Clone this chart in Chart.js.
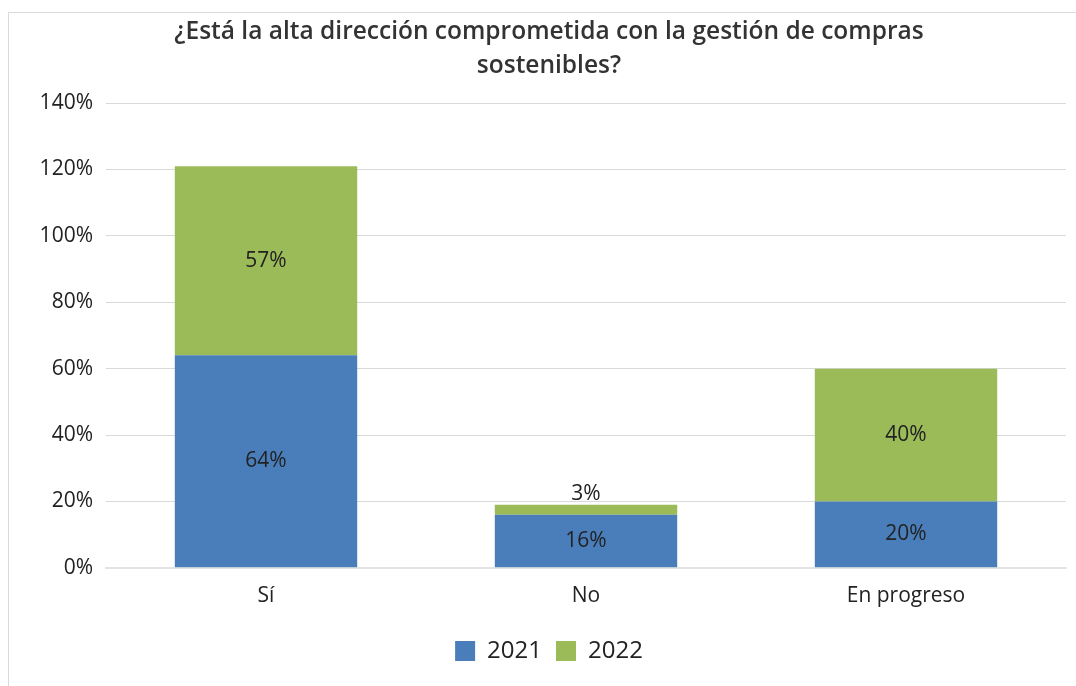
<!DOCTYPE html>
<html>
<head>
<meta charset="utf-8">
<script src="https://cdn.jsdelivr.net/npm/chart.js@4"></script>
<style>
  html, body { margin: 0; padding: 0; background: #fff; overflow: hidden; }
  #frame { position: absolute; left: 8px; top: 12px; width: 1082px; height: 674px;
           border-left: 1px solid #d9d9d9; border-top: 1px solid #d9d9d9; box-sizing: border-box; }
  #c { display: block; }
</style>
</head>
<body>
<div id="frame"><canvas id="c" width="1081" height="673"></canvas></div>
<script>
const categories = ['Sí', 'No', 'En progreso'];
const series2021 = [64, 16, 20];
const series2022 = [57, 3, 40];
const yTicks = [0, 20, 40, 60, 80, 100, 120, 140];
const titleLines = ['¿Está la alta dirección comprometida con la gestión de compras', 'sostenibles?'];

const FONT = '"Open Sans", sans-serif';

const labelPlugin = {
  id: 'segLabels',
  afterDatasetsDraw(chart) {
    const ctx = chart.ctx;
    ctx.save();
    ctx.font = '21px ' + FONT;
    ctx.fillStyle = '#222';
    ctx.textAlign = 'center';
    ctx.textBaseline = 'middle';
    chart.data.datasets.forEach((ds, di) => {
      const meta = chart.getDatasetMeta(di);
      meta.data.forEach((el, i) => {
        const v = ds.data[i];
        const top = Math.min(el.y, el.base), bot = Math.max(el.y, el.base);
        let y = (top + bot) / 2;
        if (bot - top < 22) y = top - 11;
        ctx.fillText(v + '%', el.x, y);
      });
    });
    ctx.restore();
  }
};

new Chart(document.getElementById('c'), {
  type: 'bar',
  data: {
    labels: categories,
    datasets: [
      { label: '2021', data: series2021, backgroundColor: '#4a7ebb' },
      { label: '2022', data: series2022, backgroundColor: '#9bbb59' }
    ]
  },
  plugins: [labelPlugin],
  options: {
    responsive: false,
    animation: false,
    layout: { padding: { left: 23, right: 24, top: 0, bottom: 13 } },
    datasets: { bar: { categoryPercentage: 0.57, barPercentage: 1 } },
    scales: {
      x: {
        stacked: true,
        grid: { display: false, drawTicks: false },
        border: { display: true, color: '#e3e3e3', width: 2 },
        ticks: { color: '#222', font: { family: FONT, size: 21 }, padding: 16 }
      },
      y: {
        stacked: true,
        min: 0, max: 140,
        afterBuildTicks(scale) { scale.ticks = yTicks.map(v => ({ value: v })); },
        afterFit(scale) { scale.width = 74; },
        grid: { color: '#d9d9d9', lineWidth: 1, drawTicks: false },
        border: { display: false },
        ticks: { color: '#222', font: { family: FONT, size: 21 }, padding: 13,
                 callback: v => v + '%' }
      }
    },
    plugins: {
      title: {
        display: true,
        text: titleLines,
        color: '#333',
        font: { family: FONT, size: 24.5, weight: '600', lineHeight: 1.39 },
        padding: { top: 2, bottom: 20 }
      },
      legend: {
        position: 'bottom',
        labels: {
          color: '#222',
          font: { family: FONT, size: 24 },
          boxWidth: 20, boxHeight: 20, padding: 14
        }
      },
      tooltip: { enabled: false }
    }
  }
});
</script>
</body>
</html>
